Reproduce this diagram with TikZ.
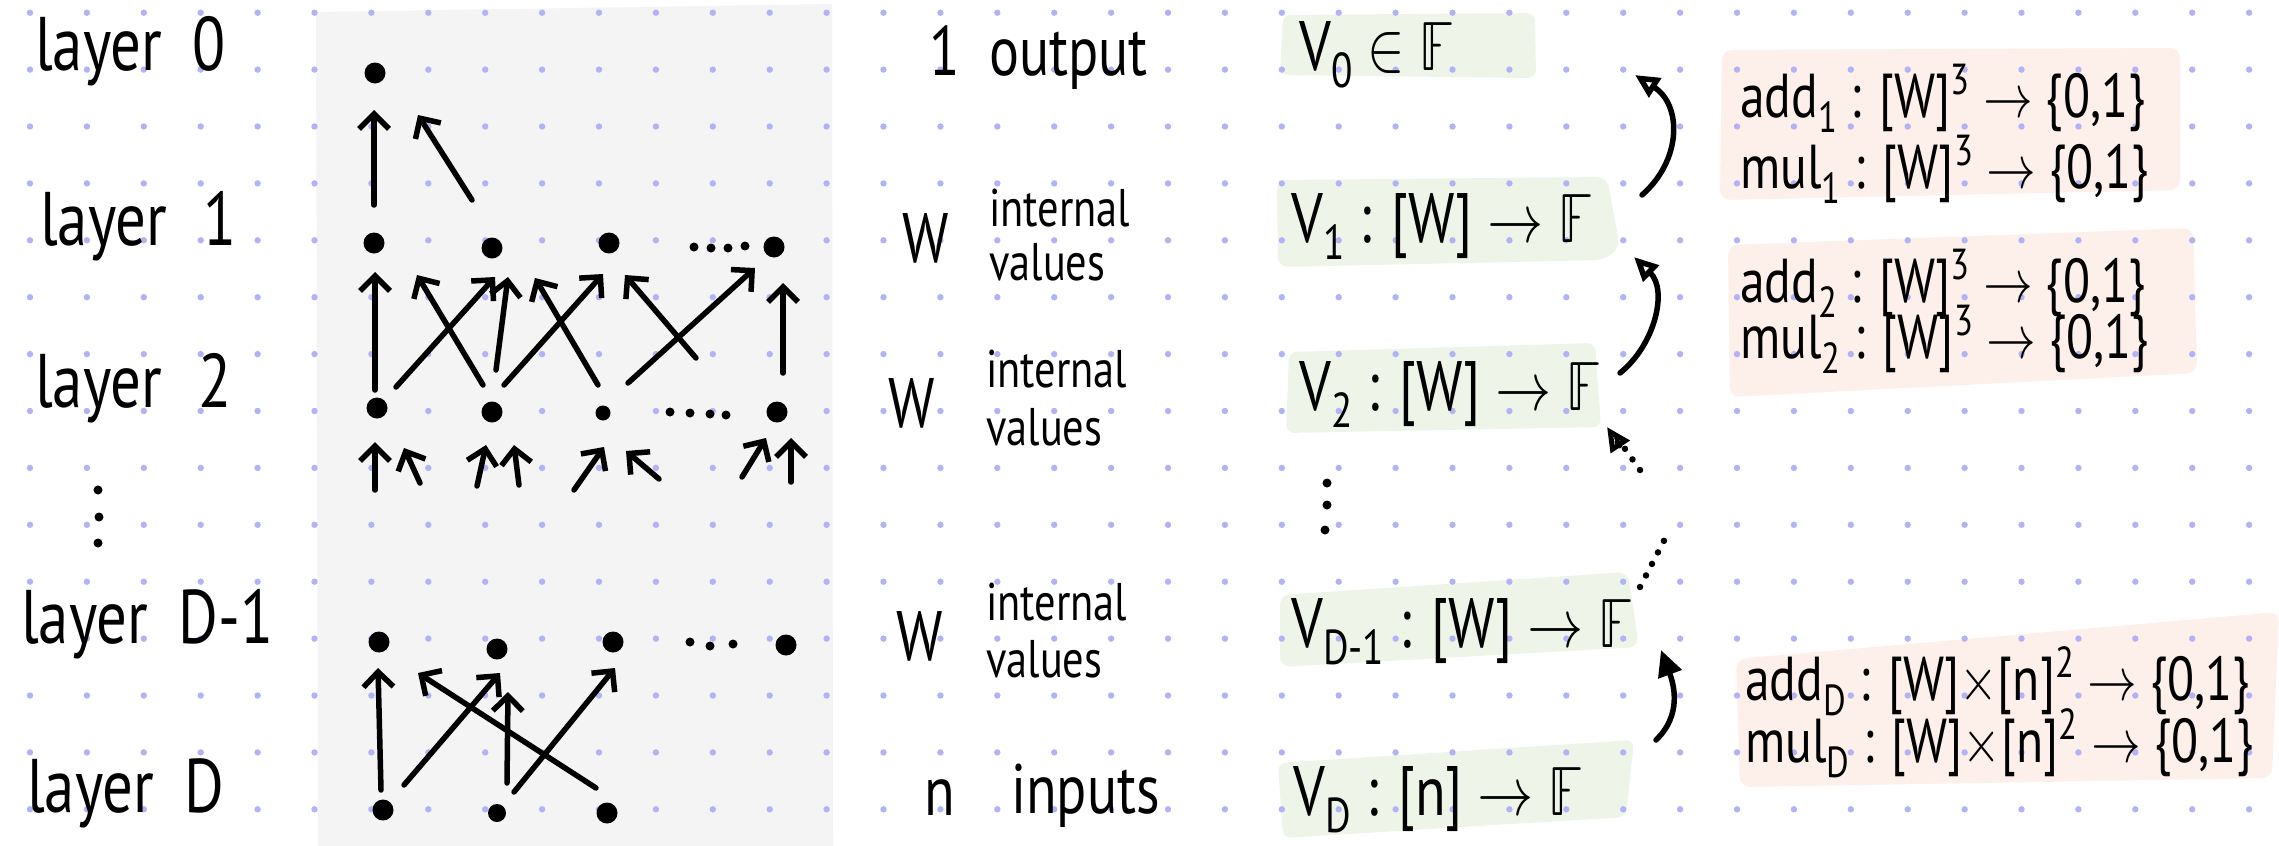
\documentclass[tikz,border=0pt]{standalone}
\usepackage{fontspec}
\usepackage{unicode-math}
\setmainfont{PT Sans}
\newfontfamily\hand{PT Sans}
\usetikzlibrary{arrows.meta,calc}
\newcommand\FSz[1]{\fontsize{#1}{#1}\selectfont}
\definecolor{panelgray}{RGB}{244,244,244}
\definecolor{boxgreen}{RGB}{238,245,232}
\definecolor{boxpink}{RGB}{253,239,233}
\definecolor{griddot}{RGB}{178,178,246}
\begin{document}
\begin{tikzpicture}[x=1pt,y=-1pt,line width=5.5pt,line cap=round,line join=round,
  dotnode/.style={circle,fill=black,inner sep=0pt,minimum size=21pt},
  txt/.style={anchor=base west,inner sep=0pt,xscale=0.8},
  lab/.style={txt,font=\hand\FSz{76}},
  mid/.style={txt,font=\hand\FSz{70}},
  small/.style={txt,font=\hand\FSz{53}},
  vt/.style={txt,font=\hand\FSz{70}},
  pk/.style={txt,font=\hand\FSz{62}},
  arr/.style={-{Straight Barb[length=15pt,width=30pt]}},
  carr/.style={-{Triangle[open,length=24pt,width=22pt]}},
  farr/.style={-{Triangle[length=26pt,width=24pt]}},
  dotl/.style={dash pattern=on 0pt off 13pt,line width=6.5pt,line cap=round}]
\useasboundingbox (0,0) rectangle (2279,846);
\fill[white] (0,0) rectangle (2279,846);
% panels
\fill[panelgray] (316,12) -- (832,4) -- (833,846) -- (318,846) -- cycle;
\fill[boxgreen,rounded corners=8pt] (1283,15) -- (1535,13) -- (1536,78) -- (1280,75) -- cycle;
\fill[boxgreen,rounded corners=10pt] (1277,180) -- (1607,177) -- (1620,248) -- (1604,260) -- (1278,267) -- cycle;
\fill[boxgreen,rounded corners=8pt] (1289,352) -- (1595,343) -- (1601,427) -- (1286,433) -- cycle;
\fill[boxgreen,rounded corners=10pt] (1280,595) -- (1628,572) -- (1639,647) -- (1280,667) -- cycle;
\fill[boxgreen,rounded corners=8pt] (1278,763) -- (1634,740) -- (1626,817) -- (1283,838) -- cycle;
\fill[boxpink,rounded corners=10pt] (1722,50) -- (2180,48) -- (2180,190) -- (1720,200) -- cycle;
\fill[boxpink,rounded corners=10pt] (1728,245) -- (2193,228) -- (2197,373) -- (1730,397) -- cycle;
\fill[boxpink,rounded corners=10pt] (1736,659) -- (2279,612) -- (2272,778) -- (1740,787) -- cycle;
% grid
\foreach \i in {0,...,39} \foreach \j in {0,...,14}
  \fill[griddot] ({30+56.9*\i},{12.7+56.9*\j}) circle (3.2);
% left labels
\node[lab] (lab0) at (33,70) {layer\hspace{0.5em}0};
\node[lab] (lab1) at (38,245) {layer\hspace{0.6em}1};
\node[lab] (lab2) at (33,407) {layer\hspace{0.6em}2};
\node[lab] (labd1) at (19,643) {layer\hspace{0.5em}D-1};
\node[lab] (labd) at (25,812) {layer\hspace{0.5em}D};
\foreach \p in {(98,490),(99,517),(98,543)} \fill \p circle (4.5);
% nodes
\node[dotnode] (l0) at (375,73) {};
\node[dotnode] (l1a) at (374,243) {};
\node[dotnode] (l1b) at (492,248) {};
\node[dotnode] (l1c) at (609,243) {};
\node[dotnode] (l1d) at (774,247) {};
\node[dotnode] (l2a) at (377,408) {};
\node[dotnode] (l2b) at (492,412) {};
\node[dotnode,minimum size=15pt] (l2c) at (603,413) {};
\node[dotnode] (l2d) at (777,412) {};
\node[dotnode] (ld1a) at (379,642) {};
\node[dotnode] (ld1b) at (497,649) {};
\node[dotnode] (ld1c) at (613,642) {};
\node[dotnode] (ld1d) at (786,645) {};
\node[dotnode] (lda) at (383,810) {};
\node[dotnode,minimum size=18pt] (ldb) at (497,813) {};
\node[dotnode] (ldc) at (607,813) {};
% ellipsis dots in rows
\foreach \p in {(694,247),(711,248),(728,248),(745,246)} \fill \p circle (4.5);
\foreach \p in {(670,412),(690,413),(710,414),(726,415)} \fill \p circle (4.5);
\foreach \p in {(690,642),(710,646),(733,644)} \fill \p circle (4.5);
% layer 1 -> 0
\draw[arr] ([shift={(0,-38)}]l1a.center) -- ([shift={(-1,37)}]l0.center);
\draw[arr] ([shift={(-20,-48)}]l1b.center) -- ([shift={(43,42)}]l0.center);
% layer 2 -> 1
\draw[arr] ([shift={(-2,-18)}]l2a.center) -- ([shift={(1,29)}]l1a.center);
\draw[arr] ([shift={(19,-21)}]l2a.center) -- ([shift={(3,29)}]l1b.center);
\draw[arr] ([shift={(-9,-27)}]l2b.center) -- ([shift={(43,32)}]l1a.center);
\draw[arr] ([shift={(4,-42)}]l2b.center) -- ([shift={(16,29)}]l1b.center);
\draw[arr] ([shift={(12,-27)}]l2b.center) -- ([shift={(-6,31)}]l1c.center);
\draw[arr] ([shift={(-5,-28)}]l2c.center) -- ([shift={(43,30)}]l1b.center);
\draw[arr] ([shift={(93,-55)}]l2c.center) -- ([shift={(16,32)}]l1c.center);
\draw[arr] ([shift={(25,-30)}]l2c.center) -- ([shift={(-19,21)}]l1d.center);
\draw[arr] ([shift={(6,-39)}]l2d.center) -- ([shift={(9,36)}]l1d.center);
% inputs into layer 2
\coordinate (t1) at (375,490);
\coordinate (t2) at (420,483);
\coordinate (t3) at (477,486);
\coordinate (t4) at (519,485);
\coordinate (t5) at (574,490);
\coordinate (t6) at (659,479);
\coordinate (t7) at (742,477);
\coordinate (t8) at (791,482);
\draw[arr] (t1) -- ([shift={(-2,34)}]l2a.center);
\draw[arr] (t2) -- ([shift={(27,40)}]l2a.center);
\draw[arr] (t3) -- ([shift={(-6,33)}]l2b.center);
\draw[arr] (t4) -- ([shift={(22,33)}]l2b.center);
\draw[arr] (t5) -- ([shift={(1,34)}]l2c.center);
\draw[arr] (t6) -- ([shift={(23,38)}]l2c.center);
\draw[arr] (t7) -- ([shift={(-11,26)}]l2d.center);
\draw[arr] (t8) -- ([shift={(14,26)}]l2d.center);
% layer D -> D-1
\draw[arr] ([shift={(-2,-20)}]lda.center) -- ([shift={(-1,26)}]ld1a.center);
\draw[arr] ([shift={(21,-25)}]lda.center) -- ([shift={(3,24)}]ld1b.center);
\draw[arr] ([shift={(-11,-25)}]ldc.center) -- ([shift={(39,31)}]ld1a.center);
\draw[arr] ([shift={(10,-30)}]ldb.center) -- ([shift={(11,43)}]ld1b.center);
\draw[arr] ([shift={(17,-21)}]ldb.center) -- ([shift={(2,26)}]ld1c.center);
% middle column
\node[mid] (n1) at (927,75) {1};
\node[mid] (out) at (987,75) {output};
\node[mid] (w1) at (900,262) {W};
\node[small] (int1) at (987,226) {internal};
\node[small] (val1) at (987,280) {values};
\node[mid] (w2) at (886,427) {W};
\node[small] (int2) at (984,387) {internal};
\node[small] (val2) at (984,445) {values};
\node[mid] (w3) at (894,660) {W};
\node[small] (int3) at (984,620) {internal};
\node[small] (val3) at (984,677) {values};
\node[mid] (nn) at (922,815) {n};
\node[mid] (inp) at (1009,813) {inputs};
% value functions
\node[vt] (v0) at (1297,70) {V\textsubscript{0} $\in$ $\mathbb{F}$};
\node[vt] (v1) at (1289,242) {V\textsubscript{1} : [W] $\to$ $\mathbb{F}$};
\node[vt] (v2) at (1297,410) {V\textsubscript{2} : [W] $\to$ $\mathbb{F}$};
\node[vt] (vd1) at (1289,647) {V\textsubscript{D-1} : [W] $\to$ $\mathbb{F}$};
\node[vt] (vd) at (1291,815) {V\textsubscript{D} : [n] $\to$ $\mathbb{F}$};
\foreach \p in {(1327,483),(1327,505),(1325,530)} \fill \p circle (4.5);
% curved arrows
\draw[carr] ([shift={(353,-47)}]v1.base west) .. controls (1682,160) and (1682,105) .. ([shift={(338,5)}]v0.base west);
\draw[carr] ([shift={(323,-37)}]v2.base west) .. controls (1655,345) and (1668,290) .. ([shift={(345,15)}]v1.base west);
\coordinate (dt1) at (1640,470);
\draw[dotl] (dt1) -- ([shift={(316,22)}]v2.base west);
\draw[carr,line width=5pt] ([shift={(320,32)}]v2.base west) -- ([shift={(310,17)}]v2.base west);
\coordinate (dt2) at (1668,533);
\draw[dotl] ([shift={(351,-60)}]vd1.base west) -- (dt2);
\draw[farr] ([shift={(365,-75)}]vd.base west) .. controls (1682,715) and (1674,685) .. ([shift={(372,3)}]vd1.base west);
% gate functions
\node[pk] (a1) at (1738,117) {add\textsubscript{1} : [W]\textsuperscript{3} $\to$ \{0,1\}};
\node[pk] (m1) at (1738,188) {mul\textsubscript{1} : [W]\textsuperscript{3} $\to$ \{0,1\}};
\node[pk] (a2) at (1738,302) {add\textsubscript{2} : [W]\textsuperscript{3} $\to$ \{0,1\}};
\node[pk] (m2) at (1738,358) {mul\textsubscript{2} : [W]\textsuperscript{3} $\to$ \{0,1\}};
\node[pk] (aD) at (1743,700) {add\textsubscript{D} : [W]$\times$[n]\textsuperscript{2} $\to$ \{0,1\}};
\node[pk] (mD) at (1743,762) {mul\textsubscript{D} : [W]$\times$[n]\textsuperscript{2} $\to$ \{0,1\}};
\end{tikzpicture}
\end{document}
